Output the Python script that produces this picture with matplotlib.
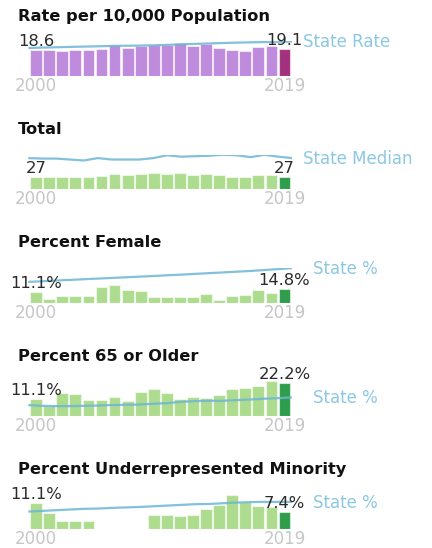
import numpy as np
import matplotlib
matplotlib.use("Agg")
import matplotlib.pyplot as plt

years = list(range(2000, 2020))

rate = [18.6, 18.6, 17.7, 18.4, 18.6, 19.4, 21.7, 20.1, 21.3, 22.2,
        21.7, 23.2, 21.3, 22.5, 19.8, 18.6, 17.9, 20.8, 21.3, 19.1]
state_rate = [19.8, 20.1, 20.3, 20.6, 20.8, 21.0, 21.3, 21.4, 21.5, 21.7,
              22.0, 22.4, 22.7, 23.0, 23.3, 23.6, 23.8, 24.0, 24.2, 24.4]

total = [27, 27, 26, 27, 27, 29, 32, 30, 32, 34,
         32, 35, 31, 33, 30, 27, 25, 30, 30, 27]
state_median = [66, 65, 65, 63, 61, 66, 63, 63, 63, 66,
                72, 69, 70, 71, 73, 72, 68, 73, 69, 66]

pct_female = [11.1, 3.7, 7.7, 7.4, 7.4, 17.2, 18.8, 13.3, 12.5, 5.9,
              6.3, 5.7, 6.5, 9.1, 3.3, 7.4, 8.0, 13.3, 10.0, 14.8]
state_female = [22.5, 23.2, 24.0, 24.7, 25.4, 26.1, 26.8, 27.5, 28.2, 28.9,
                29.7, 30.4, 31.2, 32.0, 32.8, 33.6, 34.4, 35.4, 36.4, 37.5]

pct_65 = [11.1, 6.6, 15.4, 14.8, 10.9, 10.5, 12.5, 10.0, 16.1, 18.2,
          15.7, 11.4, 13.0, 12.3, 13.9, 18.4, 19.1, 20.0, 23.3, 22.2]
state_65 = [7.3, 6.8, 6.6, 6.6, 6.8, 7.0, 7.3, 7.5, 7.7, 8.2,
            8.6, 9.5, 10.0, 10.2, 10.2, 10.7, 11.1, 11.6, 12.0, 12.5]

pct_urm = [11.1, 7.2, 3.7, 3.7, 3.7, 0, 0, 0, 0, 6.0,
           6.0, 5.8, 6.3, 8.9, 10.4, 14.9, 11.7, 10.1, 9.4, 7.4]
state_urm = [7.6, 7.9, 8.2, 8.5, 8.8, 8.9, 9.2, 9.4, 9.6, 9.9,
             10.2, 10.5, 10.8, 10.9, 11.2, 11.5, 11.7, 11.8, 11.8, 11.8]

titles = ["Rate per 10,000 Population", "Total", "Percent Female",
          "Percent 65 or Older", "Percent Underrepresented Minority"]
state_labels = ["State Rate", "State Median", "State %", "State %", "State %"]
bar_series = [rate, total, pct_female, pct_65, pct_urm]
line_series = [state_rate, state_median, state_female, state_65, state_urm]
formats = ["{:.1f}", "{:d}", "{:.1f}%", "{:.1f}%", "{:.1f}%"]

# styling
PURPLE, PURPLE_DARK = "#BF8BDC", "#A4317F"
GREEN, GREEN_DARK = "#ADDC8F", "#2E9E4C"
bar_colors = [(PURPLE, PURPLE_DARK)] + [(GREEN, GREEN_DARK)] * 4
LINE_COLOR = "#6DB5D6"
STATE_TEXT = "#8CC8E2"
YEAR_COLOR = "#C6C6C6"
VALUE_COLOR = "#2A2A2A"
state_gap_px = [11, 11, 21, 21, 21]

W, H = 432, 548
fig = plt.figure(figsize=(W / 100, H / 100), dpi=100)
PX = 72 / 100  # points per pixel

x = np.arange(len(years))
x_line = np.linspace(-0.6, len(years) - 0.4, len(years))

for i in range(5):
    bottom_px = 76 + 113.3 * i
    ax = fig.add_axes([28.3 / W, 1 - bottom_px / H, 264 / W, 34.5 / H])
    vals = bar_series[i]
    line = line_series[i]
    light, dark = bar_colors[i]
    colors = [light] * (len(vals) - 1) + [dark]
    ax.bar(x, vals, width=0.9, color=colors,
           edgecolor=(1, 1, 1, 0.55), linewidth=0.8, zorder=2)
    ax.plot(x_line, line, color=LINE_COLOR, lw=1.6, alpha=0.85, zorder=3,
            solid_capstyle="butt")
    ax.set_xlim(-0.6, len(years) - 0.4)
    ax.set_ylim(0, max(max(vals), max(line)))
    ax.axis("off")

    # first / last values
    for idx in (0, len(vals) - 1):
        ax.annotate(formats[i].format(vals[idx]), xy=(x[idx], vals[idx]),
                    xytext=(0, 4 * PX), textcoords="offset points",
                    ha="center", va="baseline", fontsize=11.8,
                    color=VALUE_COLOR, zorder=4, annotation_clip=False)
        ax.annotate(str(years[idx]), xy=(x[idx], 0),
                    xytext=(0, -15 * PX), textcoords="offset points",
                    ha="center", va="baseline", fontsize=12,
                    color=YEAR_COLOR, annotation_clip=False)

    ax.annotate(state_labels[i], xy=(x_line[-1], line[-1]),
                xytext=(state_gap_px[i] * PX, -6 * PX),
                textcoords="offset points", ha="left", va="baseline",
                fontsize=12, color=STATE_TEXT, annotation_clip=False)

    fig.text(18 / W, 1 - (bottom_px - 55.3) / H, titles[i],
             ha="left", va="baseline", fontsize=11.7, fontweight="bold",
             color="#111111")

fig.savefig("out.png", dpi=100)
